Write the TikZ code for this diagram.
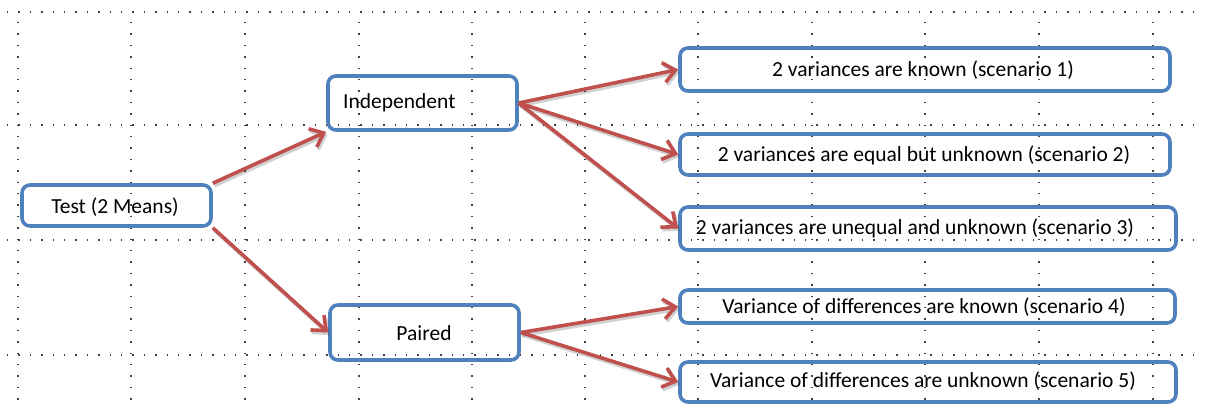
\documentclass[tikz,border=0pt]{standalone}
\usepackage{fontspec}
\setmainfont{Carlito}
\usetikzlibrary{arrows.meta}
\definecolor{boxblue}{RGB}{79,129,189}
\definecolor{arrred}{RGB}{192,80,77}
\begin{document}
\begin{tikzpicture}[x=1pt,y=-1pt,
  box/.style={draw=boxblue, line width=3.6pt, rounded corners=8pt, inner sep=0pt},
  lbl/.style={font=\fontsize{21.5}{24}\selectfont, text=black, inner sep=0pt},
  arr/.style={draw=arrred, line width=3.6pt, -{Straight Barb[length=12pt,width=20pt]}},
  shad/.style={draw=black, opacity=0.18, line width=3.6pt, -{Straight Barb[length=12pt,width=20pt]}, transform canvas={shift={(1.5pt,-2.5pt)}}},
  gridline/.style={draw=black!75, line width=1.4pt, dash pattern=on 1.4pt off 10pt}]
\useasboundingbox (0,0) rectangle (1207,407);
% dotted grid
\foreach \yy in {12,125,240,355} \draw[gridline] (7,\yy) -- (1203,\yy);
\foreach \xx in {18,131,245,359,472,585,698,812,925,1039,1153} \draw[gridline] (\xx,22) -- (\xx,407);
% boxes
\node[box, minimum width=189pt, minimum height=41pt] (t) at (116.5,205.5) {};
\node[box, minimum width=189pt, minimum height=54pt] (ind) at (422.5,103) {};
\node[box, minimum width=189pt, minimum height=55pt] (pai) at (424.5,332.5) {};
\node[box, minimum width=490pt, minimum height=43pt] (b1) at (925,69.5) {};
\node[box, minimum width=490pt, minimum height=41pt] (b2) at (925,154.5) {};
\node[box, minimum width=496pt, minimum height=43pt] (b3) at (928,228.5) {};
\node[box, minimum width=495pt, minimum height=33pt] (b4) at (927.5,306.5) {};
\node[box, minimum width=496pt, minimum height=40pt] (b5) at (928,382) {};
% labels
\node[lbl] (tt) at (115,207) {Test (2 Means)};
\node[lbl, anchor=west] (tind) at (343,103) {Independent};
\node[lbl] (tpai) at (424,333) {Paired};
\node[lbl] (t1) at (923,70) {2 variances are known (scenario 1)};
\node[lbl] (t2) at (924,155) {2 variances are equal but unknown (scenario 2)};
\node[lbl] (t3) at (915,228) {2 variances are unequal and unknown (scenario 3)};
\node[lbl] (t4) at (924,307) {Variance of differences are known (scenario 4)};
\node[lbl] (t5) at (923,381) {Variance of differences are unknown (scenario 5)};
% arrow shadows
\draw[shad] (t.north east) -- (ind.south west);
\draw[shad] (t.south east) -- (pai.west);
\draw[shad] (ind.east) -- (b1.west);
\draw[shad] (ind.east) -- (b2.west);
\draw[shad] (ind.east) -- (b3.west);
\draw[shad] (pai.east) -- (b4.west);
\draw[shad] (pai.east) -- (b5.west);
% arrows
\draw[arr] (t.north east) -- (ind.south west);
\draw[arr] (t.south east) -- (pai.west);
\draw[arr] (ind.east) -- (b1.west);
\draw[arr] (ind.east) -- (b2.west);
\draw[arr] (ind.east) -- (b3.west);
\draw[arr] (pai.east) -- (b4.west);
\draw[arr] (pai.east) -- (b5.west);
\end{tikzpicture}
\end{document}
